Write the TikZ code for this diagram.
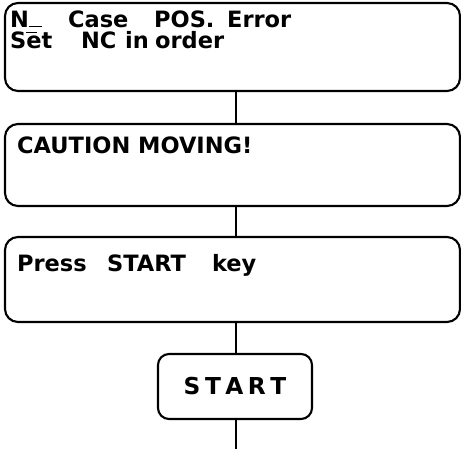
\documentclass[tikz,border=0pt]{standalone}
\usepackage{fontspec}
\setmainfont{DejaVu Sans}
\usetikzlibrary{positioning}
\newcommand{\wordat}[2]{\makebox[#1][l]{#2}}

\begin{document}
\begin{tikzpicture}[
  x=1pt, y=1pt,
  screen/.style={draw=black, line width=2.1pt, rounded corners=13pt,
                 minimum width=455pt, inner sep=0pt},
  keybox/.style={draw=black, line width=2.1pt, rounded corners=11pt,
                 minimum width=154pt, minimum height=65pt, inner sep=0pt,
                 font=\fontsize{23.3}{24}\selectfont\bfseries},
  msg/.style={inner sep=0pt, align=left,
              font=\fontsize{22.5}{21}\selectfont\bfseries},
  link/.style={line width=2pt, draw=black},
]
  \useasboundingbox (0,0) rectangle (461,-449);

  % Error screen ------------------------------------------------------------
  \node[screen, minimum height=88pt] (errbox) at (232.5,-47) {};
  \node[msg, below right=8.5pt and 6pt of errbox.north west] (errtext)
    {\wordat{58pt}{N\rule{13pt}{1.1pt}}\wordat{86pt}{Case}\wordat{73pt}{POS.}Error\\
     \wordat{71pt}{S\rlap{\rule[15pt]{11pt}{1.1pt}}et}\wordat{44pt}{NC}\wordat{30pt}{in}order};

  % Caution screen ----------------------------------------------------------
  \node[screen, minimum height=82pt] (cautbox) at (232.5,-165) {};
  \node[msg, below right=13.5pt and 13pt of cautbox.north west] (cauttext) {CAUTION MOVING!};

  % Press screen ------------------------------------------------------------
  \node[screen, minimum height=85pt] (pressbox) at (232.5,-279.5) {};
  \node[msg, below right=18.5pt and 13pt of pressbox.north west] (presstext)
    {\wordat{90pt}{Press}\wordat{105pt}{START}key};

  % START key ---------------------------------------------------------------
  \node[keybox] (startkey) at (235,-386.5) {S\kern4.5pt T\kern4.5pt A\kern4.5pt R\kern4.5pt T};
  \coordinate (exit) at (235.5,-449);

  \draw[link] ([xshift=3pt]errbox.south) -- ([xshift=3pt]cautbox.north);
  \draw[link] ([xshift=3pt]cautbox.south) -- ([xshift=3pt]pressbox.north);
  \draw[link] ([xshift=3pt]pressbox.south) -- ([xshift=0.5pt]startkey.north);
  \draw[link] ([xshift=0.5pt]startkey.south) -- (exit);
\end{tikzpicture}
\end{document}
